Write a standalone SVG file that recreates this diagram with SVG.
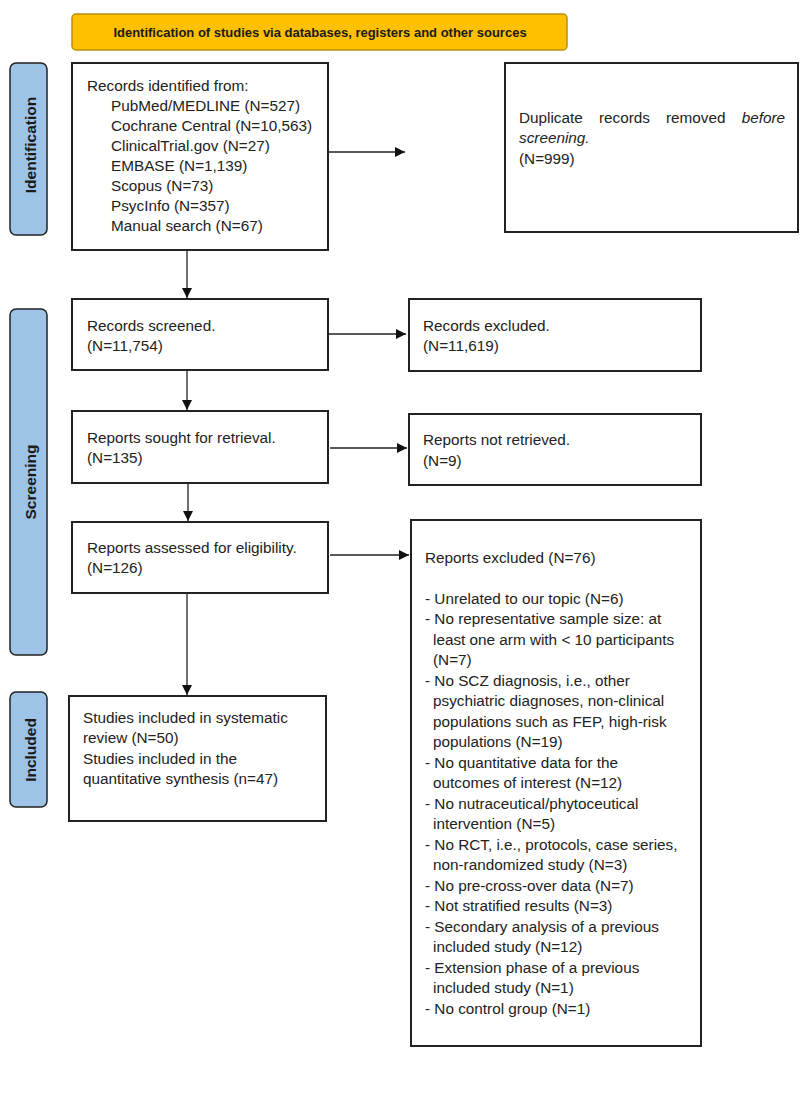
<svg xmlns="http://www.w3.org/2000/svg" width="800" height="1095" viewBox="0 0 800 1095">
<defs>
<marker id="ah" viewBox="0 0 10 10" refX="10" refY="5" markerWidth="10" markerHeight="10" markerUnits="userSpaceOnUse" orient="auto">
<path d="M0,0 L10,5 L0,10 z" fill="#111"/>
</marker>
<style>
.box{fill:#fff;stroke:#222;stroke-width:2}
.side{fill:#9dc3e6;stroke:#222;stroke-width:1.5}
.t{font-family:"Liberation Sans",Arial,sans-serif;font-size:15.3px;fill:#222}
.sl{font-family:"Liberation Sans",Arial,sans-serif;font-size:15.5px;font-weight:bold;fill:#1a1a1a;text-anchor:middle}
.c{stroke:#222;stroke-width:1.3;fill:none;marker-end:url(#ah)}
</style>
</defs>
<rect width="800" height="1095" fill="#fff"/>
<g id="banner">
<rect x="72" y="14" width="495" height="36" rx="4" fill="#ffc000" stroke="#b8900a" stroke-width="1.5"/>
<text x="320" y="37" style="font-family:'Liberation Sans',Arial,sans-serif;font-weight:bold;font-size:13px;text-anchor:middle;fill:#1a1a1a">Identification of studies via databases, registers and other sources</text>
</g>
<g id="label-identification">
<rect x="10" y="63" width="37" height="172" rx="6" class="side"/>
<text class="sl" transform="translate(36,145) rotate(-90)">Identification</text>
</g>
<g id="label-screening">
<rect x="10" y="309" width="37" height="346" rx="6" class="side"/>
<text class="sl" transform="translate(36,482) rotate(-90)">Screening</text>
</g>
<g id="label-included">
<rect x="10" y="692" width="37" height="115" rx="6" class="side"/>
<text class="sl" transform="translate(36,750) rotate(-90)">Included</text>
</g>
<g id="records-identified">
<rect x="72" y="63" width="256" height="187" class="box"/>
<text class="t" x="87" y="90.5">Records identified from:</text>
<text class="t" x="111" y="110.5">PubMed/MEDLINE (N=527)</text>
<text class="t" x="111" y="130.5">Cochrane Central (N=10,563)</text>
<text class="t" x="111" y="150.5">ClinicalTrial.gov (N=27)</text>
<text class="t" x="111" y="170.5">EMBASE (N=1,139)</text>
<text class="t" x="111" y="190.5">Scopus (N=73)</text>
<text class="t" x="111" y="210.5">PsycInfo (N=357)</text>
<text class="t" x="111" y="230.5">Manual search (N=67)</text>
</g>
<g id="duplicates">
<rect x="505" y="63" width="293" height="169" class="box"/>
<text class="t" x="519" y="122.5">Duplicate</text>
<text class="t" x="599" y="122.5">records</text>
<text class="t" x="666" y="122.5">removed</text>
<text class="t" x="785" y="122.5" style="font-style:italic;text-anchor:end">before</text>
<text class="t" x="519" y="142.5" style="font-style:italic">screening.</text>
<text class="t" x="519" y="163.5">(N=999)</text>
</g>
<g id="records-screened">
<rect x="72" y="299" width="256" height="71" class="box"/>
<text class="t" x="87" y="330.5">Records screened.</text>
<text class="t" x="87" y="350.5">(N=11,754)</text>
</g>
<g id="records-excluded">
<rect x="409" y="299" width="292" height="72" class="box"/>
<text class="t" x="423" y="330.5">Records excluded.</text>
<text class="t" x="423" y="350.5">(N=11,619)</text>
</g>
<g id="reports-sought">
<rect x="72" y="411" width="256" height="72" class="box"/>
<text class="t" x="87" y="442.5">Reports sought for retrieval.</text>
<text class="t" x="87" y="462.5">(N=135)</text>
</g>
<g id="reports-not-retrieved">
<rect x="409" y="414" width="292" height="71" class="box"/>
<text class="t" x="423" y="444.5">Reports not retrieved.</text>
<text class="t" x="423" y="465.5">(N=9)</text>
</g>
<g id="reports-assessed">
<rect x="72" y="522" width="256" height="71" class="box"/>
<text class="t" x="87" y="552.5">Reports assessed for eligibility.</text>
<text class="t" x="87" y="572.5">(N=126)</text>
</g>
<g id="reports-excluded">
<rect x="411" y="520" width="290" height="526" class="box"/>
<text class="t" x="425" y="562.5">Reports excluded (N=76)</text>
<text class="t" x="425" y="603.5">- Unrelated to our topic (N=6)</text>
<text class="t" x="425" y="624">- No representative sample size: at</text>
<text class="t" x="433" y="644.5">least one arm with &lt; 10 participants</text>
<text class="t" x="433" y="665">(N=7)</text>
<text class="t" x="425" y="685.5">- No SCZ diagnosis, i.e., other</text>
<text class="t" x="433" y="706">psychiatric diagnoses, non-clinical</text>
<text class="t" x="433" y="726.5">populations such as FEP, high-risk</text>
<text class="t" x="433" y="747">populations (N=19)</text>
<text class="t" x="425" y="767.5">- No quantitative data for the</text>
<text class="t" x="433" y="788">outcomes of interest (N=12)</text>
<text class="t" x="425" y="808.5">- No nutraceutical/phytoceutical</text>
<text class="t" x="433" y="829">intervention (N=5)</text>
<text class="t" x="425" y="849.5">- No RCT, i.e., protocols, case series,</text>
<text class="t" x="433" y="870">non-randomized study (N=3)</text>
<text class="t" x="425" y="890.5">- No pre-cross-over data (N=7)</text>
<text class="t" x="425" y="911">- Not stratified results (N=3)</text>
<text class="t" x="425" y="931.5">- Secondary analysis of a previous</text>
<text class="t" x="433" y="952">included study (N=12)</text>
<text class="t" x="425" y="972.5">- Extension phase of a previous</text>
<text class="t" x="433" y="993">included study (N=1)</text>
<text class="t" x="425" y="1013.5">- No control group (N=1)</text>
</g>
<g id="studies-included">
<rect x="69" y="696" width="257" height="125" class="box"/>
<text class="t" x="83" y="722.5">Studies included in systematic</text>
<text class="t" x="83" y="742.5">review (N=50)</text>
<text class="t" x="83" y="763.5">Studies included in the</text>
<text class="t" x="83" y="783.5">quantitative synthesis (n=47)</text>
</g>
<g id="connectors">
<line class="c" x1="328" y1="152" x2="405" y2="152"/>
<line class="c" x1="187" y1="250" x2="187" y2="298"/>
<line class="c" x1="328" y1="334" x2="406" y2="334"/>
<line class="c" x1="187" y1="370" x2="187" y2="410"/>
<line class="c" x1="330" y1="448" x2="407" y2="448"/>
<line class="c" x1="188" y1="483" x2="188" y2="521"/>
<line class="c" x1="330" y1="555" x2="409" y2="555"/>
<line class="c" x1="187" y1="593" x2="187" y2="695"/>
</g>
</svg>
